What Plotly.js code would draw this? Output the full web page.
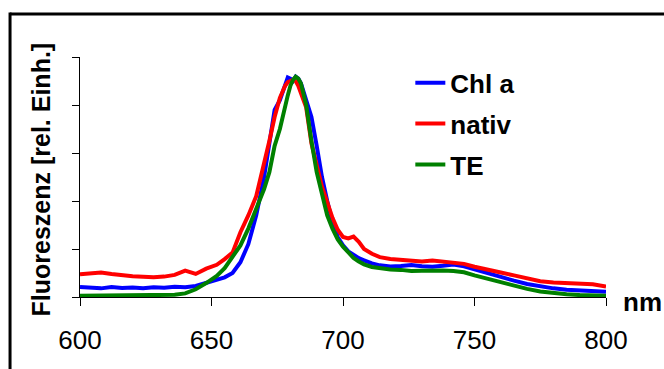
<!DOCTYPE html>
<html>
<head>
<meta charset="utf-8">
<script src="https://cdn.plot.ly/plotly-3.0.1.min.js"></script>
<style>html,body{margin:0;padding:0;background:#fff;}#chart{width:664px;height:369px;}</style>
</head>
<body>
<div id="chart"></div>
<script>
var wavelength = [600,604,608,612,616,620,624,628,632,636,640,644,648,652,655,658,661,664,667,670,672,674,676,678,679,680,681,682,683,684,686,688,690,692,694,696,698,700,702,704,706,708,711,714,718,722,726,730,734,738,742,746,750,755,760,765,770,775,780,785,790,795,800];

var chlA = [4.2,4.0,3.6,4.2,3.8,4.0,3.6,4.1,3.9,4.3,4.1,4.6,5.8,7.0,8.2,10,14.5,22,34,50,63,78,82,89,91.5,91,90,91.8,91,89,82,75,63,50,40,31,25,21.5,19,17.5,16.2,15.3,14,13.2,12.7,12.9,13.3,12.8,12.6,13.0,13.5,12.8,11.5,10,8.2,6.8,5.4,4.4,3.6,3.0,2.7,2.6,2.2];

var nativ = [9.5,9.8,10.2,9.6,9.0,8.6,8.4,8.2,8.5,9.2,11.0,9.6,11.8,13.4,15.8,18.5,27,34,42,55,65,75,83,88,89.5,90,90.5,90,88,85,79,64,55,46,39.5,33,28,25,24.4,25.2,23,20,18,16.6,15.8,15.5,15.1,14.8,15.2,14.6,14.4,13.8,12.6,11.6,10.2,9,7.8,6.6,6,5.7,5.5,5.3,4.4];

var te = [0.5,0.5,0.5,0.5,0.5,0.5,0.5,0.5,0.5,0.9,1.5,3.2,5.8,8.8,12,16.5,21.5,28.5,36.5,45,52,63,70,80,84,88,90.5,91.8,91,89,80,65,52,43,34,28.5,24,21,18.5,16.3,14.8,13.6,12.5,12,11.5,11.3,10.8,10.9,11.1,11.0,10.8,10.3,9.0,7.6,6.0,4.5,3.4,2.3,1.6,1.1,0.8,0.6,0.5];

var seriesNames = ["Chl a", "nativ", "TE"];
var xTicks = [600, 650, 700, 750, 800];

var FONT = "Liberation Sans, Arial, sans-serif";
function tr(y, name, color) {
  return {x: wavelength, y: y, name: name, legendgroup: name, type: "scatter", mode: "lines",
          line: {color: color, width: 4}};
}
var data = [tr(chlA, seriesNames[0], "#0000FF"), tr(nativ, seriesNames[1], "#FF0000"), tr(te, seriesNames[2], "#008000")];

var layout = {
  width: 664, height: 369,
  margin: {l: 80, r: 58, t: 57, b: 72, pad: 0},
  paper_bgcolor: "#fff", plot_bgcolor: "#fff",
  showlegend: true,
  legend: {x: 0.628, y: 0.99, xanchor: "left", yanchor: "top", bgcolor: "rgba(0,0,0,0)",
           font: {family: FONT, size: 26, color: "#000", weight: "bold"}, tracegroupgap: 4},
  xaxis: {range: [600, 800], tickvals: xTicks, ticktext: xTicks.map(String), ticks: "outside", ticklen: 8,
          tickcolor: "#000", tickwidth: 1, showline: true, linecolor: "#000", linewidth: 1,
          ticklabelstandoff: 12,
          showgrid: false, zeroline: false, tickfont: {family: FONT, size: 26, color: "#000"}},
  yaxis: {range: [0, 100], dtick: 20, ticks: "outside", ticklen: 7, tickcolor: "#000", tickwidth: 1,
          showline: true, linecolor: "#000", linewidth: 1, showgrid: false, zeroline: false,
          showticklabels: false},
  annotations: [
    {text: "Fluoreszenz [rel. Einh.]", xref: "paper", yref: "paper", x: -0.074, y: 0.49, textangle: -90,
     showarrow: false, xanchor: "center", yanchor: "middle",
     font: {family: FONT, size: 25, color: "#000", weight: "bold"}},
    {text: "nm", xref: "paper", yref: "paper", x: 1.028, y: -0.02, showarrow: false,
     xanchor: "left", yanchor: "middle", font: {family: FONT, size: 26, color: "#000", weight: "bold"}}
  ],
  shapes: [
    {type: "line", xref: "paper", yref: "paper", x0: -0.133, x1: 1.2, y0: 1.179, y1: 1.179, line: {color: "#000", width: 3}},
    {type: "line", xref: "paper", yref: "paper", x0: -0.133, x1: -0.133, y0: 1.185, y1: -0.4, line: {color: "#000", width: 3}}
  ]
};
Plotly.newPlot("chart", data, layout, {staticPlot: true, displayModeBar: false});
</script>
</body>
</html>
